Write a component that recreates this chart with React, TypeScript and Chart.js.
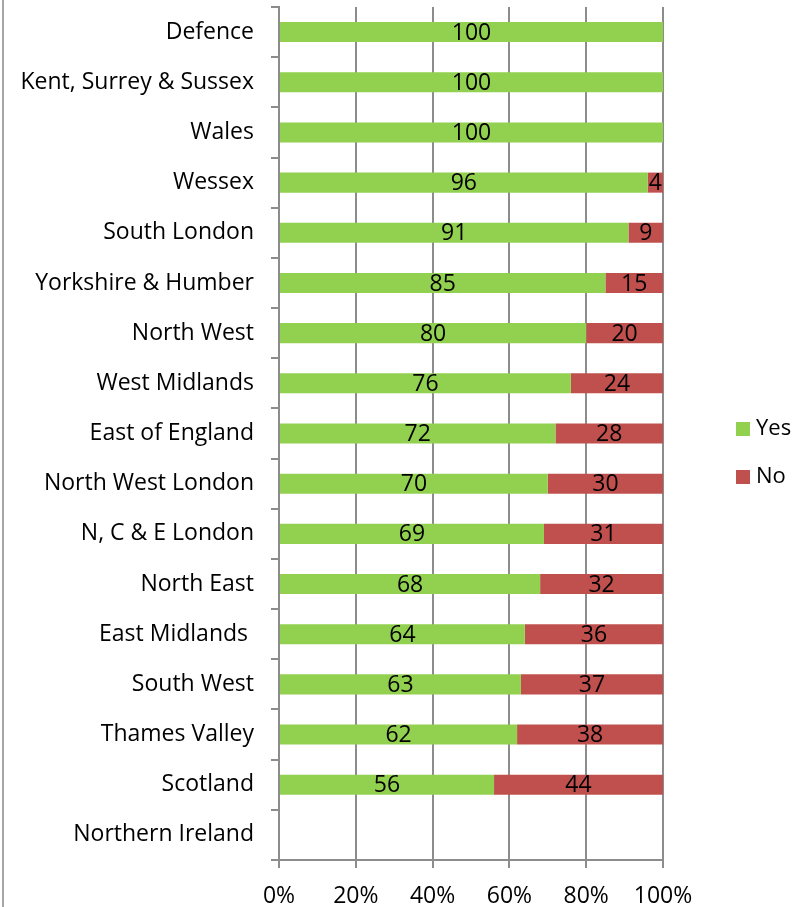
import React, { useEffect, useRef } from "react";
import { Chart, registerables } from "chart.js";

Chart.register(...registerables);

const categories = [
  "Defence",
  "Kent, Surrey & Sussex",
  "Wales",
  "Wessex",
  "South London",
  "Yorkshire & Humber",
  "North West",
  "West Midlands",
  "East of England",
  "North West London",
  "N, C & E London",
  "North East",
  "East Midlands ",
  "South West",
  "Thames Valley",
  "Scotland",
  "Northern Ireland",
];
const yesValues = [100, 100, 100, 96, 91, 85, 80, 76, 72, 70, 69, 68, 64, 63, 62, 56, null];
const noValues = [null, null, null, 4, 9, 15, 20, 24, 28, 30, 31, 32, 36, 37, 38, 44, null];
const xTicks = [0, 20, 40, 60, 80, 100];

const FONT = "'Open Sans', 'DejaVu Sans', sans-serif";
const GREEN = "#92D050";
const RED = "#C0504D";
const GRID = "#8c8c8c";

const valueLabels = {
  id: "valueLabels",
  afterDatasetsDraw(chart: any) {
    const ctx = chart.ctx;
    ctx.save();
    ctx.font = `23px ${FONT}`;
    ctx.fillStyle = "#000";
    ctx.textAlign = "center";
    ctx.textBaseline = "middle";
    chart.data.datasets.forEach((ds: any, di: number) => {
      const meta = chart.getDatasetMeta(di);
      meta.data.forEach((el: any, i: number) => {
        const v = ds.data[i];
        if (v == null || v === 0) return;
        const { x, base, y } = el.getProps(["x", "base", "y"], true);
        ctx.fillText(String(v), (x + base) / 2, y + 1);
      });
    });
    ctx.restore();
  },
};

const frame = {
  id: "frame",
  beforeDraw(chart: any) {
    const ctx = chart.ctx;
    ctx.save();
    ctx.strokeStyle = "#a6a6a6";
    ctx.lineWidth = 2;
    ctx.beginPath();
    ctx.moveTo(3, 0);
    ctx.lineTo(3, chart.height);
    ctx.stroke();
    ctx.restore();
  },
};

const customLegend = {
  id: "customLegend",
  afterDraw(chart: any) {
    const ctx = chart.ctx;
    ctx.save();
    ctx.font = `22px ${FONT}`;
    ctx.textAlign = "left";
    ctx.textBaseline = "middle";
    const items = chart.data.datasets.map((d: any) => ({ label: d.label, color: d.backgroundColor }));
    const startY = 429;
    items.forEach((it: any, i: number) => {
      const cy = startY + i * 48;
      ctx.fillStyle = it.color;
      ctx.fillRect(736, cy - 7, 14, 14);
      ctx.fillStyle = "#000";
      ctx.fillText(it.label, 756, cy);
    });
    ctx.restore();
  },
};

export default function App() {
  const ref = useRef<HTMLCanvasElement>(null);
  useEffect(() => {
    if (!ref.current) return;
    const chart = new Chart(ref.current, {
      type: "bar",
      data: {
        labels: categories,
        datasets: [
          { label: "Yes", data: yesValues as any, backgroundColor: GREEN, barPercentage: 0.4, categoryPercentage: 1 },
          { label: "No", data: noValues as any, backgroundColor: RED, barPercentage: 0.4, categoryPercentage: 1 },
        ],
      },
      options: {
        indexAxis: "y",
        animation: false,
        responsive: false,
        maintainAspectRatio: false,
        layout: { padding: { top: 7, right: 136, left: 0, bottom: 0 } },
        plugins: { legend: { display: false }, tooltip: { enabled: false } },
        scales: {
          x: {
            stacked: true,
            min: 0,
            max: 100,
            afterBuildTicks(axis: any) {
              axis.ticks = xTicks.map((v) => ({ value: v }));
            },
            afterFit(axis: any) {
              axis.height = 47;
              axis.paddingLeft = 0;
            },
            ticks: {
              callback: (v: any) => v + "%",
              color: "#000",
              font: { family: FONT, size: 23 },
              padding: 15,
              maxRotation: 0,
            },
            grid: { color: GRID, lineWidth: 2, tickLength: 8, drawTicks: true },
            border: { color: GRID, width: 2 },
          },
          y: {
            stacked: true,
            afterFit(axis: any) {
              axis.width = 279;
              axis.paddingTop = 0;
              axis.paddingBottom = 0;
            },
            ticks: {
              color: "#000",
              font: { family: FONT, size: 23 },
              padding: 17,
              autoSkip: false,
            },
            grid: { drawOnChartArea: false, color: GRID, lineWidth: 2, tickLength: 8, offset: true },
            border: { color: GRID, width: 2 },
          },
        },
      },
      plugins: [frame, valueLabels, customLegend],
    });
    return () => chart.destroy();
  }, []);
  return (
    <div style={{ position: "absolute", left: 0, top: 0, width: 799, height: 907 }}>
      <canvas ref={ref} width={799} height={907} style={{ width: 799, height: 907, display: "block" }} />
    </div>
  );
}
